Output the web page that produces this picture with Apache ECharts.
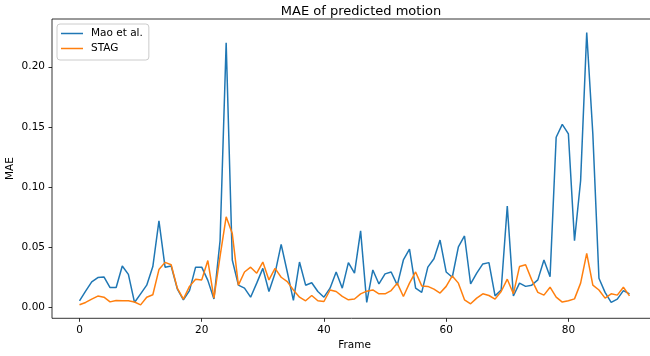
<!DOCTYPE html>
<html>
<head>
<meta charset="utf-8">
<script src="https://cdn.jsdelivr.net/npm/echarts@6/dist/echarts.min.js"></script>
<style>html,body{margin:0;padding:0;background:#fff}#c{width:650px;height:356px}</style>
</head>
<body>
<div id="c"></div>
<script>
var frames = [];
for (var i = 0; i <= 90; i++) frames.push(i);
var maoEtAl = [0.005,0.013,0.0207,0.0243,0.0249,0.016,0.016,0.034,0.027,0.0036,
0.0108,0.018,0.0335,0.0716,0.033,0.034,0.015,0.0058,0.0135,0.033,
0.033,0.022,0.0065,0.055,0.220,0.039,0.018,0.0155,0.008,0.0197,
0.032,0.0127,0.028,0.052,0.029,0.0053,0.0373,0.018,0.020,0.0127,
0.008,0.0155,0.029,0.0155,0.0368,0.028,0.0633,0.0036,0.0307,0.019,
0.0274,0.029,0.018,0.039,0.048,0.0155,0.012,0.033,0.040,0.0556,
0.029,0.0246,0.050,0.059,0.019,0.028,0.0357,0.0368,0.0091,0.014,
0.084,0.009,0.0197,0.017,0.018,0.0224,0.039,0.025,0.1413,0.152,
0.144,0.055,0.105,0.2285,0.144,0.0238,0.012,0.0036,0.0064,0.0135,
0.0108];
var stag = [0.0017,0.0036,0.0064,0.0089,0.008,0.0041,0.0053,0.005,0.005,0.0040,
0.0016,0.008,0.010,0.031,0.037,0.035,0.0155,0.0064,0.017,0.023,
0.0224,0.0385,0.0072,0.042,0.075,0.061,0.018,0.029,0.033,0.028,
0.0373,0.0224,0.032,0.0246,0.021,0.014,0.008,0.005,0.0094,0.005,
0.0044,0.014,0.0127,0.0086,0.0058,0.0065,0.0108,0.013,0.014,0.0108,
0.0108,0.0135,0.0197,0.0086,0.0197,0.029,0.0174,0.017,0.0147,0.0114,
0.017,0.0257,0.0197,0.0058,0.0025,0.0072,0.0108,0.0094,0.0064,0.0127,
0.023,0.0108,0.0335,0.035,0.0224,0.012,0.0097,0.0163,0.008,0.0039,
0.005,0.0066,0.0197,0.0445,0.018,0.014,0.0072,0.0108,0.0097,0.0163,
0.0091];
var xTicks = [0, 20, 40, 60, 80];
var yTicks = [0, 0.05, 0.10, 0.15, 0.20];

function pairs(vals) { return frames.map(function (f, k) { return [f, vals[k]]; }); }

var FONT = 'DejaVu Sans';
var chart = echarts.init(document.getElementById('c'), null, {renderer: 'canvas'});
chart.setOption({
  animation: false,
  backgroundColor: '#fff',
  textStyle: {fontFamily: FONT},
  title: {
    text: 'MAE of predicted motion',
    left: 356, top: 0, textAlign: 'center',
    textStyle: {fontFamily: FONT, fontSize: 13, fontWeight: 'normal', color: '#000'}
  },
  grid: {left: 52, top: 19, width: 605, height: 299.3, show: true, borderColor: '#000', borderWidth: 0.8,
    backgroundColor: 'transparent', containLabel: false, outerBoundsMode: 'none'},
  legend: {
    orient: 'vertical', left: 57, top: 24,
    icon: 'rect', itemWidth: 22, itemHeight: 1.5, itemGap: 4,
    padding: [4, 6, 6, 4],
    borderColor: '#ccc', borderWidth: 1, borderRadius: 3,
    backgroundColor: 'rgba(255,255,255,0.8)',
    textStyle: {fontFamily: FONT, fontSize: 10.5, color: '#000', padding: [0, 0, 0, 3]},
    data: ['Mao et al.', 'STAG']
  },
  xAxis: {
    type: 'value', min: -4.5, max: 94.5,
    name: 'Frame', nameLocation: 'middle', nameGap: 21, nameMoveOverlap: false,
    nameTextStyle: {fontFamily: FONT, fontSize: 10.5, color: '#000'},
    splitLine: {show: false},
    axisLine: {show: false, onZero: false},
    axisTick: {show: true, length: 3.5, customValues: xTicks, lineStyle: {color: '#000', width: 0.8}},
    axisLabel: {customValues: xTicks, margin: 6, fontFamily: FONT, fontSize: 10.5, color: '#000'}
  },
  yAxis: {
    type: 'value', min: -0.0096, max: 0.2398,
    name: 'MAE', nameLocation: 'middle', nameGap: 36, nameRotate: 90, nameMoveOverlap: false,
    nameTextStyle: {fontFamily: FONT, fontSize: 10.5, color: '#000'},
    splitLine: {show: false},
    axisLine: {show: false, onZero: false},
    axisTick: {show: true, length: 3.5, customValues: yTicks, lineStyle: {color: '#000', width: 0.8}},
    axisLabel: {customValues: yTicks, margin: 7, fontFamily: FONT, fontSize: 10.5, color: '#000',
      formatter: function (v) { return v.toFixed(2); }}
  },
  series: [
    {name: 'Mao et al.', type: 'line', data: pairs(maoEtAl), showSymbol: false, symbol: 'none',
      itemStyle: {color: '#1f77b4'}, lineStyle: {color: '#1f77b4', width: 1.5}},
    {name: 'STAG', type: 'line', data: pairs(stag), showSymbol: false, symbol: 'none',
      itemStyle: {color: '#ff7f0e'}, lineStyle: {color: '#ff7f0e', width: 1.5}}
  ]
});
</script>
</body>
</html>
